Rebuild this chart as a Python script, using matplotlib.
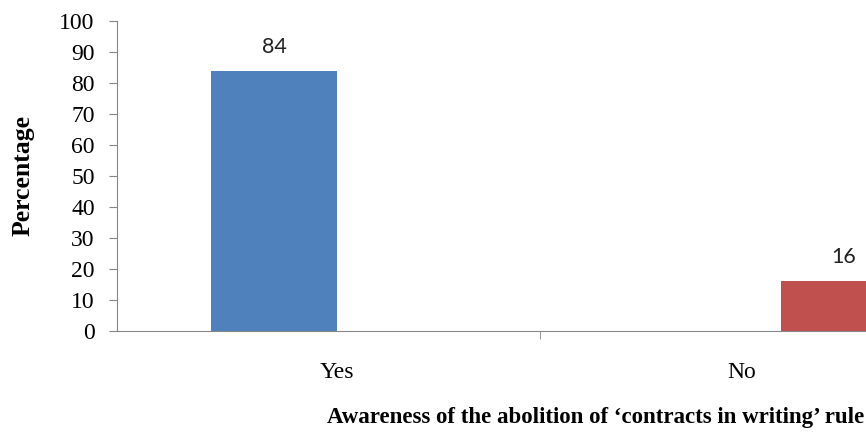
import matplotlib
matplotlib.use('Agg')
import matplotlib.pyplot as plt

categories = ['Yes', 'No']
yes_vals = [84, 0]
no_vals = [0, 16]
labels_yes = ['84', '']
labels_no = ['', '16']

plt.rcParams['font.family'] = ['Liberation Serif', 'DejaVu Serif']

fig = plt.figure(figsize=(8.66, 4.32), dpi=100)
# axes spans from x=117px to right edge, y=0 at 331px, 100 at 21px
ax = fig.add_axes([117/866, (432-331)/432, 1 - 117/866, (331-21)/432])

pos = [0, 1]
w = 0.31
b1 = ax.bar([p - 0.155 for p in pos], yes_vals, w, color='#4F81BD')
b2 = ax.bar([p + 0.251 for p in pos], no_vals, w, color='#C0504D')

for rect, lab in zip(list(b1) + list(b2), labels_yes + labels_no):
    if lab:
        ax.text(rect.get_x() + rect.get_width()/2, rect.get_height() + 4.5, lab,
                ha='center', va='bottom', fontsize=15.5,
                family=['Lato', 'DejaVu Sans'], color='#222222')

ax.set_xlim(-0.543, 1.306)
ax.set_ylim(0, 100)
ax.set_yticks(range(0, 101, 10))
ax.tick_params(axis='y', labelsize=17, length=6, color='#868686', pad=10)
ax.set_xticks(pos)
ax.set_xticklabels(categories, fontsize=17)
ax.tick_params(axis='x', length=0, pad=22)
ax.set_xticks([0.5], minor=True)
ax.tick_params(axis='x', which='minor', length=6, color='#868686')

for s in ['top', 'right']:
    ax.spines[s].set_visible(False)
ax.spines['left'].set_color('#868686')
ax.spines['bottom'].set_color('#868686')

fig.text(23/866, 1 - 175/432, 'Percentage', rotation=90, fontsize=18.5,
         fontweight='bold', ha='center', va='center')
fig.text(596/866, 1 - 418/432, "Awareness of the abolition of \u2018contracts in writing\u2019 rule",
         fontsize=16.5, fontweight='bold', ha='center', va='center')

fig.savefig('out.png', dpi=100)
